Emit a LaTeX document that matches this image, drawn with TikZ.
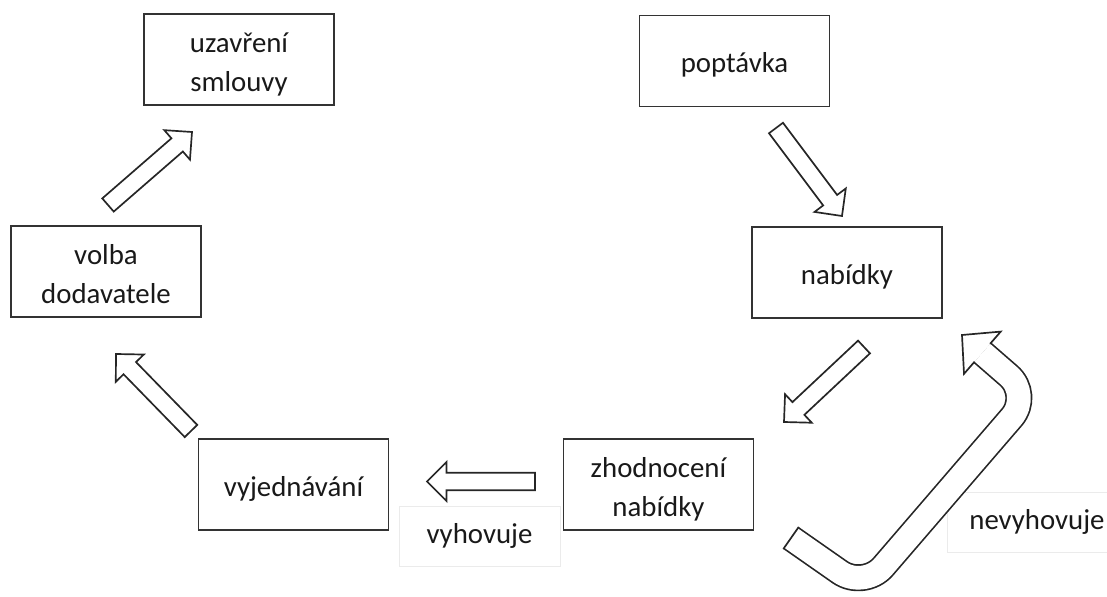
\documentclass[tikz,border=0pt]{standalone}
\usepackage{fontspec}
\setmainfont{Carlito}
\usetikzlibrary{calc}

% outlined block arrow: from, to, shaft half width, head half width, head length
\newcommand{\blockarrow}[5]{%
  \draw[blockarr] let \p1=(#1), \p2=(#2),
      \n1={atan2(\y2-\y1,\x2-\x1)}, \n2={veclen(\x2-\x1,\y2-\y1)} in
    ($(\p1)+(\n1+90:#3)$) -- ++(\n1:\n2-#5) -- ++(\n1+90:#4-#3) -- (\p2)
    -- ($(\p1)+(\n1:\n2-#5)+(\n1-90:#4)$) -- ++(\n1+90:#4-#3)
    -- ($(\p1)+(\n1-90:#3)$) -- cycle;
}

\begin{document}
\begin{tikzpicture}[
    x=0.025cm, y=-0.025cm,
    font=\fontsize{20.5pt}{27.4pt}\selectfont,
    stage/.style={rectangle, draw=black!80, line width=1.2pt, text=black!90,
        minimum width=4.75cm, minimum height=2.275cm, align=center,
        text height=16.4pt, text depth=0pt},
    twoline/.style={text height=45.5pt, text depth=0pt},
    note/.style={rectangle, draw=black!8, line width=0.6pt, text=black!90,
        minimum width=4.025cm, minimum height=1.5cm,
        text height=14.3pt, text depth=4.1pt},
    blockarr/.style={draw=black!85, fill=white, line width=1.2pt, line join=miter},
    shaft/.style={draw=black!85, double=white, double distance=16.8pt,
        line width=1.2pt, rounded corners=21pt}
]
    \useasboundingbox (0,0) rectangle (1107,597);

    \node[stage, twoline] (uzavreni) at (239,59.5) {uzavření\\smlouvy};
    \node[stage] (poptavka) at (734.5,61) {poptávka};
    \node[stage] (nabidky) at (847,272.5) {nabídky};
    \node[stage, twoline] (volba) at (106,271.5) {volba\\dodavatele};
    \node[stage] (vyjednavani) at (293.5,484.5) {vyjednávání};
    \node[stage, twoline] (zhodnoceni) at (658.5,484.5) {zhodnocení\\nabídky};

    \node[note] (vyhovuje) at (479.5,536.7) {vyhovuje};
    \node[note, anchor=west, inner xsep=15.6pt] (nevyhovuje) at (947,522.5) {nevyhovuje};

    % arrow ends
    \coordinate (volba-out) at (108,205);
    \coordinate (uzavreni-in) at (192,132);
    \coordinate (vyjed-out) at (191,431);
    \coordinate (volba-in) at (116,354);
    \coordinate (zhod-out) at (535,481.5);
    \coordinate (vyjed-in) at (427,481.5);
    \coordinate (poptavka-out) at (776,128);
    \coordinate (nabidky-in) at (842,216);
    \coordinate (nabidky-out) at (864,347);
    \coordinate (zhod-in) at (784,422);

    \blockarrow{volba-out}{uzavreni-in}{6.2pt}{13.9pt}{13.9pt}
    \blockarrow{vyjed-out}{volba-in}{6.2pt}{13.9pt}{13.9pt}
    \blockarrow{zhod-out}{vyjed-in}{6.2pt}{13.9pt}{13.9pt}
    \blockarrow{poptavka-out}{nabidky-in}{6.2pt}{13.9pt}{13.9pt}
    \blockarrow{nabidky-out}{zhod-in}{6.2pt}{13.9pt}{13.9pt}

    % back loop
    \coordinate (loop-tail) at (791,538);
    \coordinate (loop-b1) at (864,589);
    \coordinate (loop-b2) at (1031,395);
    \coordinate (nabidky-back) at (962,335);
    \coordinate (loop-head) at ($(nabidky-back)!19.2pt!(loop-b2)$);
    \draw[shaft] (loop-tail) -- (loop-b1) -- (loop-b2) -- (loop-head);
    \fill[white] ($(loop-head)!19.9pt!90:(nabidky-back)$) -- (nabidky-back)
        -- ($(loop-head)!19.9pt!-90:(nabidky-back)$) -- cycle;
    \draw[draw=black!85, line width=1.2pt, line join=miter, line cap=rect]
        ($(loop-head)!9pt!90:(nabidky-back)$) -- ($(loop-head)!19.9pt!90:(nabidky-back)$)
        -- (nabidky-back) -- ($(loop-head)!19.9pt!-90:(nabidky-back)$)
        -- ($(loop-head)!9pt!-90:(nabidky-back)$);
    \draw[draw=black!85, line width=1.2pt, line cap=rect]
        ($(loop-tail)!9pt!90:(loop-b1)$) -- ($(loop-tail)!9pt!-90:(loop-b1)$);

\end{tikzpicture}
\end{document}
